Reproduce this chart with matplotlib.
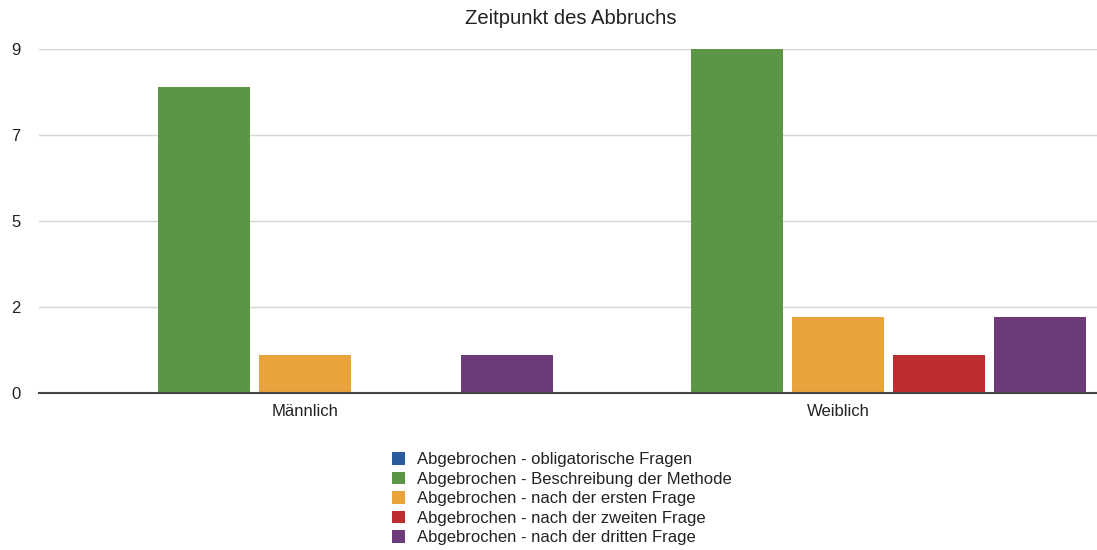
import matplotlib
matplotlib.use("Agg")
import matplotlib.pyplot as plt
import numpy as np
from matplotlib.patches import Patch

categories = ["Männlich", "Weiblich"]
series_names = [
    "Abgebrochen - obligatorische Fragen",
    "Abgebrochen - Beschreibung der Methode",
    "Abgebrochen - nach der ersten Frage",
    "Abgebrochen - nach der zweiten Frage",
    "Abgebrochen - nach der dritten Frage",
]
values_obligatorisch = [0, 0]
values_methode = [8, 9]
values_erste = [1, 2]
values_zweite = [0, 1]
values_dritte = [1, 2]
series_values = [values_obligatorisch, values_methode, values_erste, values_zweite, values_dritte]
colors = ["#2c5b9e", "#5b9647", "#e8a33d", "#bf2e2e", "#6d3a7c"]
ytick_vals = [0, 2.25, 4.5, 6.75, 9]
ytick_labels = ["0", "2", "5", "7", "9"]

plt.rcParams["font.family"] = ["Liberation Sans", "DejaVu Sans"]

fig = plt.figure(figsize=(10.97, 5.5), dpi=100)
W, H = 1097, 550
ax = fig.add_axes([39 / W, (550 - 393) / H, (1097 - 39) / W, (393 - 49) / H])

x = np.arange(len(categories))
step = 101 / 533
width = 92 / 533
for i, (vals, col) in enumerate(zip(series_values, colors)):
    ax.bar(x + (i - 2) * step, vals, width=width, color=col, zorder=3)

ax.set_xlim(-0.5, 1.486)
ax.set_ylim(0, 9)
ax.set_yticks(ytick_vals)
ax.set_yticklabels(ytick_labels, fontsize=12, color="#222222")
ax.set_xticks(x)
ax.set_xticklabels(categories, fontsize=12, color="#222222")
ax.tick_params(axis="both", length=0)
ax.tick_params(axis="x", pad=8)
for lab in ax.get_yticklabels():
    lab.set_horizontalalignment("left")
ax.yaxis.set_tick_params(pad=20)

ax.grid(axis="y", color="#d6d6d6", linewidth=1.0, zorder=0)
for s in ["top", "right", "left"]:
    ax.spines[s].set_visible(False)
ax.spines["bottom"].set_color("#444444")
ax.spines["bottom"].set_linewidth(1.5)
ax.spines["bottom"].set_zorder(4)

fig.text(571 / W, 1 - 19 / H, "Zeitpunkt des Abbruchs", ha="center", va="center",
         fontsize=14.6, color="#222222")

handles = [Patch(facecolor=c, edgecolor="none") for c in colors]
leg = fig.legend(handles, series_names, loc="upper left",
                 bbox_to_anchor=(392 / W, 1 - 452 / H), frameon=False,
                 fontsize=12, handlelength=0.78, handleheight=0.78,
                 handletextpad=0.7, labelspacing=0.27, borderpad=0, borderaxespad=0)
for t in leg.get_texts():
    t.set_color("#222222")

fig.savefig("out.png", dpi=100)
